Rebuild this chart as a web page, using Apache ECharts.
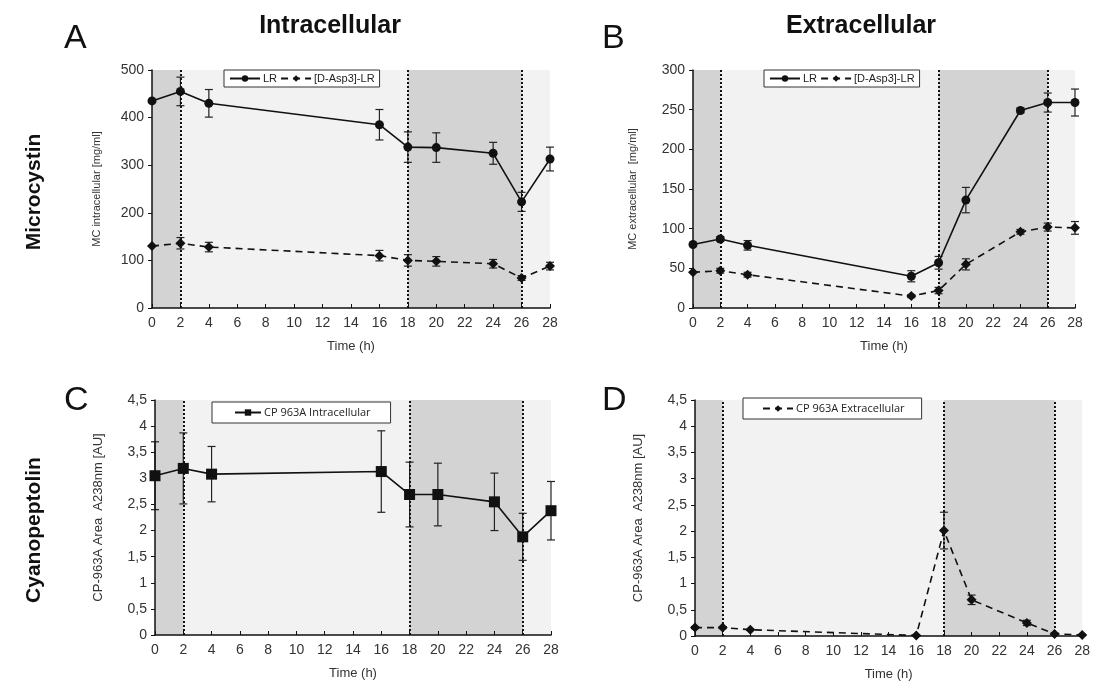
<!DOCTYPE html>
<html>
<head>
<meta charset="utf-8">
<title>Microcystin and Cyanopeptolin</title>
<script src="https://cdn.jsdelivr.net/npm/echarts@6/dist/echarts.min.js"></script>
<style>
  html, body { margin: 0; padding: 0; background: #fff; }
  #chart { width: 1093px; height: 684px; }
</style>
</head>
<body>
<div id="chart"></div>
<script>
// sampling times (h)
const hours = [0, 2, 4, 16, 18, 20, 24, 26, 28];

// A - intracellular microcystin [mg/ml]
const lrIntra = [435, 455, 430, 385, 338, 337, 325, 223, 313];
const lrIntraErr = [0, 30, 29, 32, 32, 31, 23, 20, 25];
const aspIntra = [130, 136, 128, 110, 100, 98, 93, 63, 88];
const aspIntraErr = [0, 12, 10, 11, 12, 10, 9, 5, 8];

// B - extracellular microcystin [mg/ml]
const lrExtra = [80, 87, 79, 40, 57, 136, 249, 259, 259];
const lrExtraErr = [0, 3, 6, 7, 8, 16, 3, 12, 17];
const aspExtra = [45, 47, 42, 15, 22, 55, 96, 102, 101];
const aspExtraErr = [0, 3, 3, 2, 4, 7, 3, 5, 8];

// C / D - cyanopeptolin 963A [AU]
const cpIntra = [3.05, 3.19, 3.08, 3.13, 2.69, 2.69, 2.55, 1.88, 2.38];
const cpIntraErr = [0.65, 0.68, 0.53, 0.78, 0.62, 0.6, 0.55, 0.45, 0.56];
const cpExtra = [0.16, 0.16, 0.12, 0.01, 2.01, 0.69, 0.25, 0.04, 0.02];
const cpExtraErr = [0.02, 0.02, 0.01, 0.01, 0.35, 0.09, 0.05, 0.02, 0.01];

// dark (night) periods and light switches
const darkPeriods = [[0, 2], [18, 26]];
const switchTimes = [2, 18, 26];

const chart = echarts.init(document.getElementById("chart"));

const pairs = vals => hours.map((h, i) => [h, vals[i]]);

function errorBars(vals, errs, idx) {
  return {
    type: "custom",
    xAxisIndex: idx,
    yAxisIndex: idx,
    silent: true,
    z: 3,
    data: hours.map((h, i) => [h, vals[i] - errs[i], vals[i] + errs[i]]),
    encode: { x: 0, y: [1, 2] },
    renderItem(params, api) {
      const lo = api.coord([api.value(0), api.value(1)]);
      const hi = api.coord([api.value(0), api.value(2)]);
      const w = 4;
      const style = { stroke: "#222", lineWidth: 1.2 };
      return {
        type: "group",
        children: [
          { type: "line", shape: { x1: lo[0], y1: lo[1], x2: hi[0], y2: hi[1] }, style },
          { type: "line", shape: { x1: hi[0] - w, y1: hi[1], x2: hi[0] + w, y2: hi[1] }, style },
          { type: "line", shape: { x1: lo[0] - w, y1: lo[1], x2: lo[0] + w, y2: lo[1] }, style }
        ]
      };
    }
  };
}

function lineSeries(name, vals, idx, opts) {
  const s = {
    name: name,
    type: "line",
    xAxisIndex: idx,
    yAxisIndex: idx,
    data: pairs(vals),
    symbol: opts.symbol,
    symbolSize: opts.size,
    showAllSymbol: true,
    z: 4,
    itemStyle: { color: "#111" },
    lineStyle: { color: "#111", width: 1.6, type: opts.dashed ? [7, 5] : "solid" }
  };
  if (opts.bands) {
    s.markArea = {
      silent: true,
      itemStyle: { color: "#d3d3d3" },
      data: darkPeriods.map(p => [{ xAxis: p[0] }, { xAxis: p[1] }])
    };
    s.markLine = {
      silent: true,
      symbol: "none",
      label: { show: false },
      lineStyle: { color: "#111", width: 2, type: [2, 2] },
      data: switchTimes.map(t => ({ xAxis: t }))
    };
  }
  return s;
}

const grids = [
  { left: 152, top: 70, width: 398, height: 238 },
  { left: 693, top: 70, width: 382, height: 238 },
  { left: 155, top: 400, width: 396, height: 235 },
  { left: 695, top: 400, width: 388, height: 236 }
].map(g => Object.assign(g, { show: true, backgroundColor: "#f1f2f1", borderWidth: 0, containLabel: false }));

const tickFont = { color: "#333", fontSize: 14, fontFamily: "Liberation Sans, Arial, sans-serif" };

const xAxes = grids.map((g, i) => ({
  type: "value",
  gridIndex: i,
  z: 10,
  min: 0,
  max: 28,
  interval: 2,
  name: "Time (h)",
  nameLocation: "middle",
  nameGap: 32,
  nameTextStyle: { color: "#333", fontSize: 13, fontFamily: "Liberation Sans, Arial, sans-serif" },
  axisLine: { lineStyle: { color: "#111", width: 1.5 } },
  axisTick: { inside: true, length: 4, lineStyle: { color: "#111" } },
  axisLabel: Object.assign({ margin: 8 }, tickFont),
  splitLine: { show: false }
}));

const commaFmt = v => String(v).replace(".", ",");
const yAxes = [
  { max: 500, interval: 100, name: "MC intracellular [mg/ml]", nameGap: 50, nameSize: 11 },
  { max: 300, interval: 50, name: "MC extracellular  [mg/ml]", nameGap: 55, nameSize: 11 },
  { max: 4.5, interval: 0.5, name: "CP-963A Area  A238nm [AU]", nameGap: 50, nameSize: 13, fmt: commaFmt },
  { max: 4.5, interval: 0.5, name: "CP-963A Area  A238nm [AU]", nameGap: 50, nameSize: 13, fmt: commaFmt }
].map((a, i) => ({
  type: "value",
  gridIndex: i,
  z: 10,
  min: 0,
  max: a.max,
  interval: a.interval,
  name: a.name,
  nameLocation: "middle",
  nameGap: a.nameGap,
  nameTextStyle: { color: "#333", fontSize: a.nameSize, fontFamily: "Liberation Sans, Arial, sans-serif" },
  axisLine: { show: true, lineStyle: { color: "#111", width: 1.5 } },
  axisTick: { show: true, length: 4, lineStyle: { color: "#111" } },
  axisLabel: Object.assign({ margin: 8, formatter: a.fmt }, tickFont),
  splitLine: { show: false }
}));

const legendBase = {
  orient: "horizontal",
  backgroundColor: "#fff",
  borderColor: "#333",
  borderWidth: 1,
  borderRadius: 0,
  padding: [3, 5],
  itemGap: 3,
  itemWidth: 30,
  itemHeight: 8,
  textStyle: { color: "#222", fontSize: 11, padding: [0, 0, 0, -2], fontFamily: "Liberation Sans, Arial, sans-serif" },
  selectedMode: false
};
const cpLegendText = Object.assign({}, legendBase.textStyle, { fontFamily: "Open Sans, sans-serif", fontSize: 11 });

const option = {
  animation: false,
  grid: grids,
  xAxis: xAxes,
  yAxis: yAxes,
  legend: [
    Object.assign({}, legendBase, { left: 224, top: 70, data: ["LR", "[D-Asp3]-LR"] }),
    Object.assign({}, legendBase, { left: 764, top: 70, data: ["LR", "[D-Asp3]-LR"] }),
    Object.assign({}, legendBase, { left: 212, top: 402, padding: [5, 20, 5, 22], itemWidth: 26,
      textStyle: cpLegendText, data: ["CP 963A Intracellular"] }),
    Object.assign({}, legendBase, { left: 743, top: 398, padding: [5, 17, 5, 19],
      textStyle: cpLegendText, data: ["CP 963A Extracellular"] })
  ],
  graphic: [
    { type: "text", x: 330, y: 14, style: { text: "Intracellular", font: "bold 25px Liberation Sans, Arial", fill: "#111", align: "center", verticalAlign: "top" } },
    { type: "text", x: 861, y: 14, style: { text: "Extracellular", font: "bold 25px Liberation Sans, Arial", fill: "#111", align: "center", verticalAlign: "top" } },
    { type: "text", left: 64, top: 22, style: { text: "A", font: "34px Liberation Sans, Arial", fill: "#111" } },
    { type: "text", left: 602, top: 22, style: { text: "B", font: "34px Liberation Sans, Arial", fill: "#111" } },
    { type: "text", left: 64, top: 384, style: { text: "C", font: "34px Liberation Sans, Arial", fill: "#111" } },
    { type: "text", left: 602, top: 384, style: { text: "D", font: "34px Liberation Sans, Arial", fill: "#111" } },
    { type: "text", x: 34, y: 192, rotation: Math.PI / 2,
      style: { text: "Microcystin", font: "bold 21px Liberation Sans, Arial", fill: "#111", align: "center", verticalAlign: "middle" } },
    { type: "text", x: 34, y: 530, rotation: Math.PI / 2,
      style: { text: "Cyanopeptolin", font: "bold 21px Liberation Sans, Arial", fill: "#111", align: "center", verticalAlign: "middle" } }
  ],
  series: [
    errorBars(lrIntra, lrIntraErr, 0),
    errorBars(aspIntra, aspIntraErr, 0),
    lineSeries("LR", lrIntra, 0, { symbol: "circle", size: 9, bands: true }),
    lineSeries("[D-Asp3]-LR", aspIntra, 0, { symbol: "diamond", size: 10, dashed: true }),

    errorBars(lrExtra, lrExtraErr, 1),
    errorBars(aspExtra, aspExtraErr, 1),
    lineSeries("LR", lrExtra, 1, { symbol: "circle", size: 9, bands: true }),
    lineSeries("[D-Asp3]-LR", aspExtra, 1, { symbol: "diamond", size: 10, dashed: true }),

    errorBars(cpIntra, cpIntraErr, 2),
    lineSeries("CP 963A Intracellular", cpIntra, 2, { symbol: "rect", size: 11, bands: true }),

    errorBars(cpExtra, cpExtraErr, 3),
    lineSeries("CP 963A Extracellular", cpExtra, 3, { symbol: "diamond", size: 10, dashed: true, bands: true })
  ]
};

chart.setOption(option);
</script>
</body>
</html>
